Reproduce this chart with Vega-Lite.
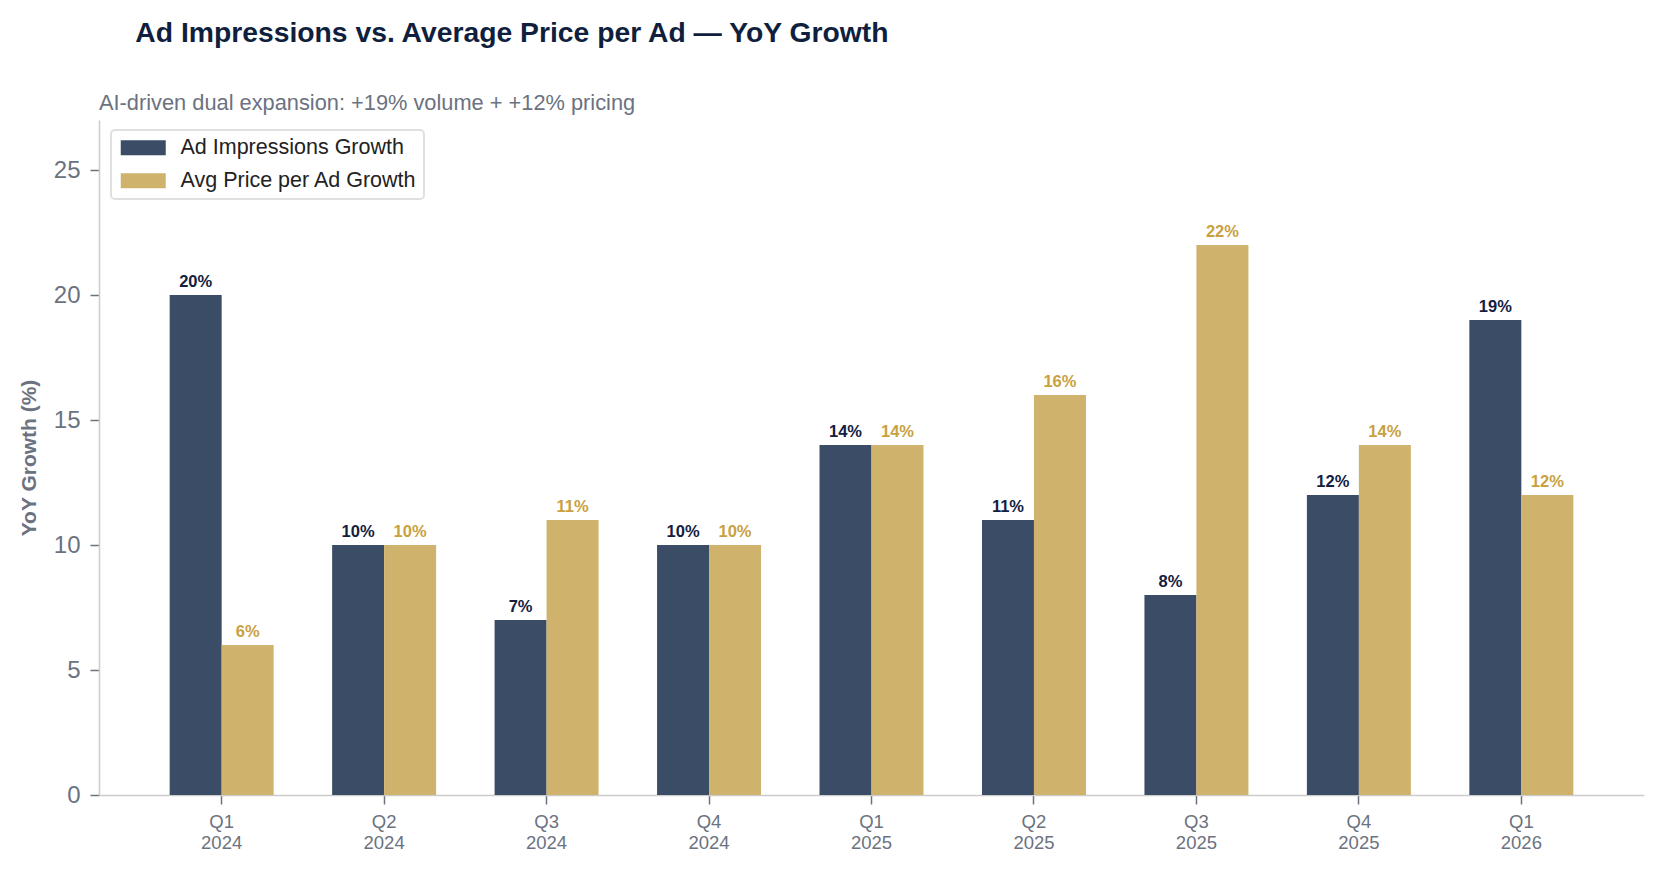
{
  "$schema": "https://vega.github.io/schema/vega-lite/v6.json",
  "background": "white",
  "padding": {"left": 18, "top": 18, "right": 18, "bottom": 10},
  "title": {
    "text": "Ad Impressions vs. Average Price per Ad — YoY Growth",
    "anchor": "start",
    "frame": "bounds",
    "dx": 117,
    "fontSize": 28.3,
    "fontWeight": "bold",
    "font": "Liberation Sans",
    "color": "#0f1f3d",
    "offset": 45
  },
  "data": {
    "values": [
      {"quarter": "Q1 2024", "series": "Ad Impressions Growth", "growth": 20},
      {"quarter": "Q1 2024", "series": "Avg Price per Ad Growth", "growth": 6},
      {"quarter": "Q2 2024", "series": "Ad Impressions Growth", "growth": 10},
      {"quarter": "Q2 2024", "series": "Avg Price per Ad Growth", "growth": 10},
      {"quarter": "Q3 2024", "series": "Ad Impressions Growth", "growth": 7},
      {"quarter": "Q3 2024", "series": "Avg Price per Ad Growth", "growth": 11},
      {"quarter": "Q4 2024", "series": "Ad Impressions Growth", "growth": 10},
      {"quarter": "Q4 2024", "series": "Avg Price per Ad Growth", "growth": 10},
      {"quarter": "Q1 2025", "series": "Ad Impressions Growth", "growth": 14},
      {"quarter": "Q1 2025", "series": "Avg Price per Ad Growth", "growth": 14},
      {"quarter": "Q2 2025", "series": "Ad Impressions Growth", "growth": 11},
      {"quarter": "Q2 2025", "series": "Avg Price per Ad Growth", "growth": 16},
      {"quarter": "Q3 2025", "series": "Ad Impressions Growth", "growth": 8},
      {"quarter": "Q3 2025", "series": "Avg Price per Ad Growth", "growth": 22},
      {"quarter": "Q4 2025", "series": "Ad Impressions Growth", "growth": 12},
      {"quarter": "Q4 2025", "series": "Avg Price per Ad Growth", "growth": 14},
      {"quarter": "Q1 2026", "series": "Ad Impressions Growth", "growth": 19},
      {"quarter": "Q1 2026", "series": "Avg Price per Ad Growth", "growth": 12}
    ]
  },
  "vconcat": [
    {
      "width": 1545,
      "height": 675,
      "title": {
        "text": "AI-driven dual expansion: +19% volume + +12% pricing",
        "anchor": "start",
        "frame": "group",
        "fontSize": 21.8,
        "fontWeight": "normal",
        "font": "Liberation Sans",
        "color": "#6b7280",
        "offset": 5
      },
      "transform": [
        {"calculate": "format(datum.growth, 'd') + '%'", "as": "label"}
      ],
      "encoding": {
        "x": {
          "field": "quarter",
          "type": "nominal",
          "sort": null,
          "scale": {"paddingInner": 0.36, "paddingOuter": 0.435},
          "axis": {
            "title": null,
            "labelAngle": 0,
            "labelExpr": "split(datum.label, ' ')",
            "labelFont": "Liberation Sans",
            "labelFontSize": 18.5,
            "labelColor": "#6b7280",
            "labelLineHeight": 21,
            "labelPadding": 8,
            "tickColor": "#6b7280",
            "tickSize": 9,
            "tickWidth": 1.5,
            "domainColor": "#cccccc",
            "domainWidth": 1.5
          }
        },
        "xOffset": {
          "field": "series",
          "type": "nominal",
          "scale": {"paddingInner": 0, "paddingOuter": 0}
        },
        "y": {
          "field": "growth",
          "type": "quantitative",
          "scale": {"domain": [0, 27], "nice": false},
          "axis": {
            "title": "YoY Growth (%)",
            "titleFont": "Liberation Sans",
            "titleFontSize": 21,
            "titleFontWeight": "bold",
            "titleColor": "#6b7280",
            "titlePadding": 14,
            "values": [0, 5, 10, 15, 20, 25],
            "labelFont": "Liberation Sans",
            "labelFontSize": 24,
            "labelColor": "#6b7280",
            "labelPadding": 10,
            "tickColor": "#6b7280",
            "tickSize": 9,
            "tickWidth": 1.5,
            "domainColor": "#cccccc",
            "domainWidth": 1.5,
            "grid": false
          }
        }
      },
      "layer": [
        {
          "mark": {"type": "bar"},
          "encoding": {
            "color": {
              "field": "series",
              "type": "nominal",
              "scale": {
                "domain": ["Ad Impressions Growth", "Avg Price per Ad Growth"],
                "range": ["#3b4c66", "#cfb26b"]
              },
              "legend": {
                "title": null,
                "orient": "none",
                "legendX": 12,
                "legendY": 10,
                "symbolType": "M-1,-0.94H4.625V0.94H-1Z",
                "symbolSize": 256,
                "symbolStrokeWidth": 0,
                "labelFont": "Liberation Sans",
                "labelFontSize": 21.5,
                "labelColor": "#222222",
                "labelLimit": 400,
                "rowPadding": 10,
                "padding": 7,
                "labelOffset": 41,
                "strokeColor": "#e0e0e0",
                "fillColor": "white",
                "cornerRadius": 4,
                "encode": {
                  "legend": {"update": {"strokeWidth": {"value": 2}}}
                }
              }
            }
          }
        },
        {
          "mark": {
            "type": "text",
            "baseline": "alphabetic",
            "dy": -8,
            "font": "Liberation Sans",
            "fontSize": 16.5,
            "fontWeight": "bold"
          },
          "encoding": {
            "text": {"field": "label", "type": "nominal"},
            "color": {
              "field": "series",
              "type": "nominal",
              "scale": {
                "domain": ["Ad Impressions Growth", "Avg Price per Ad Growth"],
                "range": ["#13213f", "#c9a13f"]
              },
              "legend": null
            }
          }
        }
      ],
      "resolve": {"scale": {"color": "independent"}}
    }
  ],
  "config": {
    "view": {"stroke": null},
    "concat": {"spacing": 0}
  }
}
